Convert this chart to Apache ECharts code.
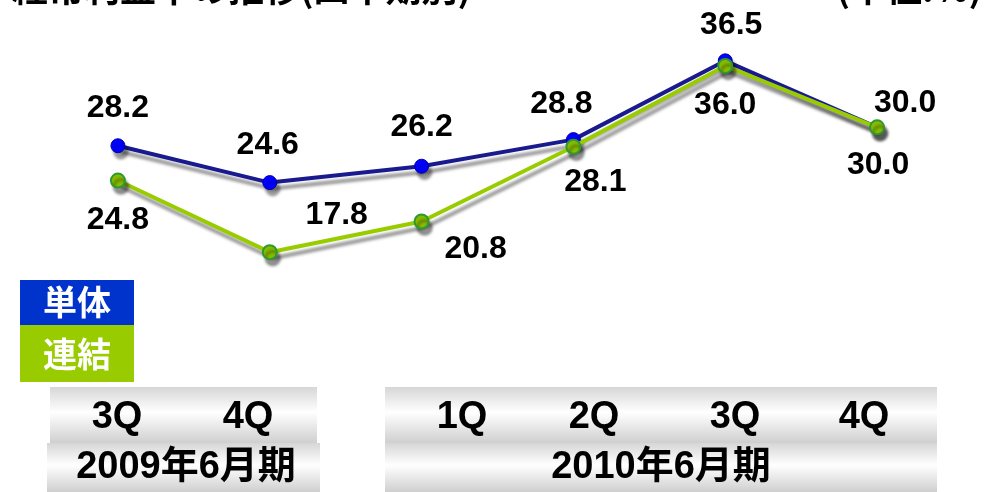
<!DOCTYPE html>
<html>
<head>
<meta charset="utf-8">
<script src="https://cdn.jsdelivr.net/npm/echarts@6/dist/echarts.min.js"></script>
<style>
  html, body { margin: 0; padding: 0; background: #ffffff; }
  #chart { width: 989px; height: 492px; }
</style>
</head>
<body>
<div id="chart"></div>
<script>
// Quarterly ordinary-profit margin (%), standalone vs consolidated
const quarters = ['3Q', '4Q', '1Q', '2Q', '3Q', '4Q'];
const periods = ['2009年6月期', '2010年6月期'];
const standalone = [28.2, 24.6, 26.2, 28.8, 36.5, 30.0];
const consolidated = [24.8, 17.8, 20.8, 28.1, 36.0, 30.0];
const seriesNames = ['単体', '連結'];
const titleText = '経常利益率の推移(四半期別)';
const unitText = '(単位:%)';

// label placement relative to each point (centre offsets in px)
const standaloneLabelOffset = [[0, -38], [-2, -37], [0, -39], [-12, -35], [6, -36], [28, -24]];
const consolidatedLabelOffset = [[0, 40], [67, -37], [54, 28], [22, 35], [0, 39], [1, 38]];

const numFont = '"Liberation Sans", Arial, sans-serif';
const cjkFont = '"Liberation Sans", "Noto Sans CJK JP", sans-serif';

function labelled(values, offsets) {
  return values.map((v, i) => ({
    value: v,
    label: { offset: offsets[i] }
  }));
}

const labelStyle = {
  show: true,
  position: 'inside',
  align: 'center',
  verticalAlign: 'middle',
  fontFamily: numFont,
  fontWeight: 'bold',
  fontSize: 32,
  color: '#000000',
  formatter: p => p.value.toFixed(1)
};

const shadow = {
  shadowColor: 'rgba(0,0,0,0.4)',
  shadowBlur: 3,
  shadowOffsetX: 3,
  shadowOffsetY: 6
};

// gray-white-gray metallic band
function band(x, y, w, h) {
  return {
    type: 'rect',
    shape: { x: x, y: y, width: w, height: h },
    style: {
      fill: new echarts.graphic.LinearGradient(0, 0, 0, 1, [
        { offset: 0, color: '#d6d6d6' },
        { offset: 0.45, color: '#ffffff' },
        { offset: 1, color: '#cfcfcf' }
      ])
    },
    silent: true,
    z: 1
  };
}

function txt(x, y, s, size, color, family) {
  return {
    type: 'text',
    x: x, y: y,
    style: {
      text: s,
      fontSize: size,
      fontWeight: 'bold',
      fontFamily: family || cjkFont,
      fill: color || '#000000',
      align: 'center',
      verticalAlign: 'middle'
    },
    silent: true,
    z: 5
  };
}

const quarterX = [117, 248, 462, 594, 735, 864];

const graphics = [
  // header (runs off the top edge)
  { type: 'text', x: 12, y: 6, style: { text: titleText, fontSize: 36, fontWeight: 'bold', fontFamily: '"Noto Sans CJK JP", sans-serif', fill: '#000', align: 'left', verticalAlign: 'bottom' }, silent: true },
  { type: 'text', x: 982, y: 6, style: { text: unitText, fontSize: 36, fontWeight: 'bold', fontFamily: '"Noto Sans CJK JP", sans-serif', fill: '#000', align: 'right', verticalAlign: 'bottom' }, silent: true },
  // legend swatches
  { type: 'rect', shape: { x: 20, y: 280, width: 114, height: 45 }, style: { fill: '#0033cc' }, silent: true },
  { type: 'rect', shape: { x: 20, y: 325, width: 114, height: 57 }, style: { fill: '#99cc00' }, silent: true },
  txt(77, 302, seriesNames[0], 34, '#ffffff', '"Noto Sans CJK JP", sans-serif'),
  txt(77, 354, seriesNames[1], 34, '#ffffff', '"Noto Sans CJK JP", sans-serif'),
  // category bands
  band(50, 387, 267, 56),
  band(47, 443, 273, 49),
  band(385, 387, 552, 56),
  band(385, 443, 552, 49),
  txt(186, 468, periods[0], 38),
  txt(661, 468, periods[1], 38)
];
quarters.forEach((q, i) => graphics.push(txt(quarterX[i], 418, q, 38, '#000', numFont)));

const chart = echarts.init(document.getElementById('chart'), null, { renderer: 'canvas' });
chart.setOption({
  animation: false,
  backgroundColor: '#ffffff',
  grid: { left: 42, right: 36, top: 25, bottom: 160 },
  xAxis: {
    type: 'category',
    data: quarters.map((q, i) => q + '_' + i),
    boundaryGap: true,
    show: false
  },
  yAxis: {
    type: 'value',
    min: 10,
    max: 40,
    show: false
  },
  series: [
    {
      name: seriesNames[1],
      type: 'line',
      data: labelled(consolidated, consolidatedLabelOffset),
      symbol: 'circle',
      symbolSize: 14,
      lineStyle: Object.assign({ color: '#99cc00', width: 4 }, shadow),
      itemStyle: Object.assign({ color: '#88bb00', borderColor: '#2e9a2e', borderWidth: 2 }, shadow),
      label: labelStyle,
      z: 3
    },
    {
      name: seriesNames[0],
      type: 'line',
      data: labelled(standalone, standaloneLabelOffset),
      symbol: 'circle',
      symbolSize: 14,
      lineStyle: Object.assign({ color: '#1a1a8f', width: 4 }, shadow),
      itemStyle: Object.assign({ color: '#0000ff', borderColor: '#0000aa', borderWidth: 1 }, shadow),
      label: labelStyle,
      z: 2
    }
  ],
  graphic: graphics
});
</script>
</body>
</html>
